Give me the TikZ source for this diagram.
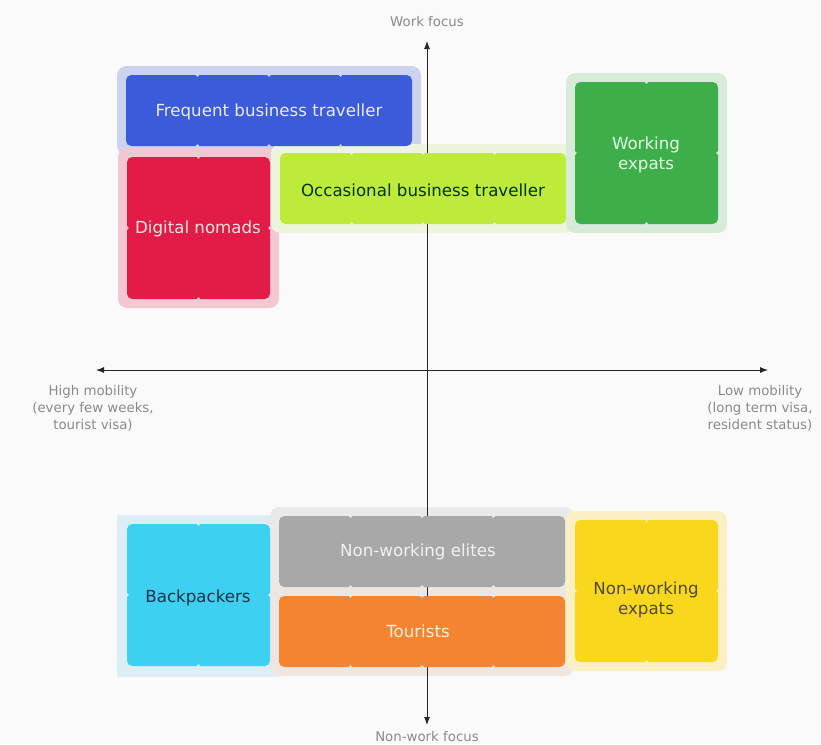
\documentclass[tikz,border=0pt]{standalone}
\usepackage{fontspec}
\setmainfont{DejaVu Sans}
\usetikzlibrary{arrows.meta}

\definecolor{paper}{HTML}{FAFAFA}
\definecolor{axisgray}{HTML}{8A8A8A}
\definecolor{freqblue}{HTML}{3B5BDB}
\definecolor{freqhalo}{HTML}{CCD3EE}
\definecolor{nomadred}{HTML}{E31B47}
\definecolor{nomadhalo}{HTML}{F3C8D2}
\definecolor{occlime}{HTML}{BEEB3B}
\definecolor{occhalo}{HTML}{EDF5DD}
\definecolor{expgreen}{HTML}{3DAE4A}
\definecolor{exphalo}{HTML}{D8EBDA}
\definecolor{packcyan}{HTML}{3DD0F0}
\definecolor{packhalo}{HTML}{DCEDF4}
\definecolor{packtext}{HTML}{15304A}
\definecolor{elitegray}{HTML}{A8A8A8}
\definecolor{elitehalo}{HTML}{E9E9E9}
\definecolor{touorange}{HTML}{F58430}
\definecolor{touhalo}{HTML}{EEE6E0}
\definecolor{nweyellow}{HTML}{F9D71C}
\definecolor{nwehalo}{HTML}{FAF0C4}

\newcommand{\tilew}{71.5}
\newcommand{\tileh}{71}

% soft frame round a group of tiles
\newcommand{\halo}[5]{
	\fill[#5, rounded corners=7pt] ({#1-9},{#2-9}) rectangle ({#1+#3*\tilew+9},{#2+#4*\tileh+9});
}

% the tiles of one group, with small notches where two tiles meet
\newcommand{\tilegroup}[6]{
	\fill[#5, rounded corners=4pt] (#1,#2) rectangle ++({#3*\tilew},{#4*\tileh});
	\pgfmathtruncatemacro{\lastcol}{#3-1}
	\foreach \cx in {1,...,\lastcol}{
		\fill[#6] ({#1+\cx*\tilew},#2) circle (1.9);
		\fill[#6] ({#1+\cx*\tilew},{#2+#4*\tileh}) circle (1.9);
	}
	\ifnum#4>1
	\fill[#6] (#1,{#2+\tileh}) circle (1.9);
	\fill[#6] ({#1+#3*\tilew},{#2+\tileh}) circle (1.9);
	\fi
}

\tikzset{
	boxtext/.style = {font=\fontsize{12.5}{15.5}\selectfont, align=center, inner sep=0pt},
	axislabel/.style = {font=\fontsize{10}{12.8}\selectfont, text=axisgray, align=center, inner sep=0pt},
	axis/.style = {line width=.7pt, black!85, {Latex[length=6pt,width=4.5pt]}-{Latex[length=6pt,width=4.5pt]}}
}

\begin{document}
\begin{tikzpicture}[x=.75pt, y=-.75pt]
		\fill[paper] (0,0) rectangle (821,744);
		\useasboundingbox (0,0) rectangle (821,744);

		%halos
		\halo{126}{75}{4}{1}{freqhalo}
		\halo{127}{157}{2}{2}{nomadhalo}
		\halo{280}{153}{4}{1}{occhalo}
		\halo{575}{82}{2}{2}{exphalo}
		\fill[packhalo, rounded corners=1pt] (117,515) rectangle (280,677);
		\halo{279}{516}{4}{1}{elitehalo}
		\halo{279}{596}{4}{1}{touhalo}
		\halo{575}{520}{2}{2}{nwehalo}

		%axes
		\coordinate (top) at (427,41);
		\coordinate (bottom) at (427,725);
		\coordinate (left) at (96,370);
		\coordinate (right) at (768,370);
		\draw[axis] (bottom) -- (top);
		\draw[axis] (left) -- (right);

		\node[axislabel] (work) at (427,22) {Work focus};
		\node[axislabel] (nonwork) at (427,737) {Non-work focus};
		\node[axislabel] (high) at (93,408) {High mobility\\(every few weeks,\\tourist visa)};
		\node[axislabel] (low) at (760,408) {Low mobility\\(long term visa,\\resident status)};

		%groups
		\tilegroup{126}{75}{4}{1}{freqblue}{freqhalo}
		\tilegroup{127}{157}{2}{2}{nomadred}{nomadhalo}
		\tilegroup{280}{153}{4}{1}{occlime}{occhalo}
		\tilegroup{575}{82}{2}{2}{expgreen}{exphalo}
		\tilegroup{127}{524}{2}{2}{packcyan}{packhalo}
		\tilegroup{279}{516}{4}{1}{elitegray}{elitehalo}
		\tilegroup{279}{596}{4}{1}{touorange}{touhalo}
		\tilegroup{575}{520}{2}{2}{nweyellow}{nwehalo}

		\node[boxtext, text=blue!8] (freq) at (269,112) {Frequent business traveller};
		\node[boxtext, text=red!10] (nomads) at (198,229) {Digital nomads};
		\node[boxtext, text=green!20!black] (occ) at (423,190) {Occasional business traveller};
		\node[boxtext, text=green!12] (wexp) at (646,155) {Working\\expats};
		\node[boxtext, text=packtext] (pack) at (198,598) {Backpackers};
		\node[boxtext, text=white!90!gray] (elite) at (418,552) {Non-working elites};
		\node[boxtext, text=orange!10] (tour) at (418,631) {Tourists};
		\node[boxtext, text=black!80!yellow] (nwexp) at (646,600) {Non-working\\expats};
\end{tikzpicture}
\end{document}
